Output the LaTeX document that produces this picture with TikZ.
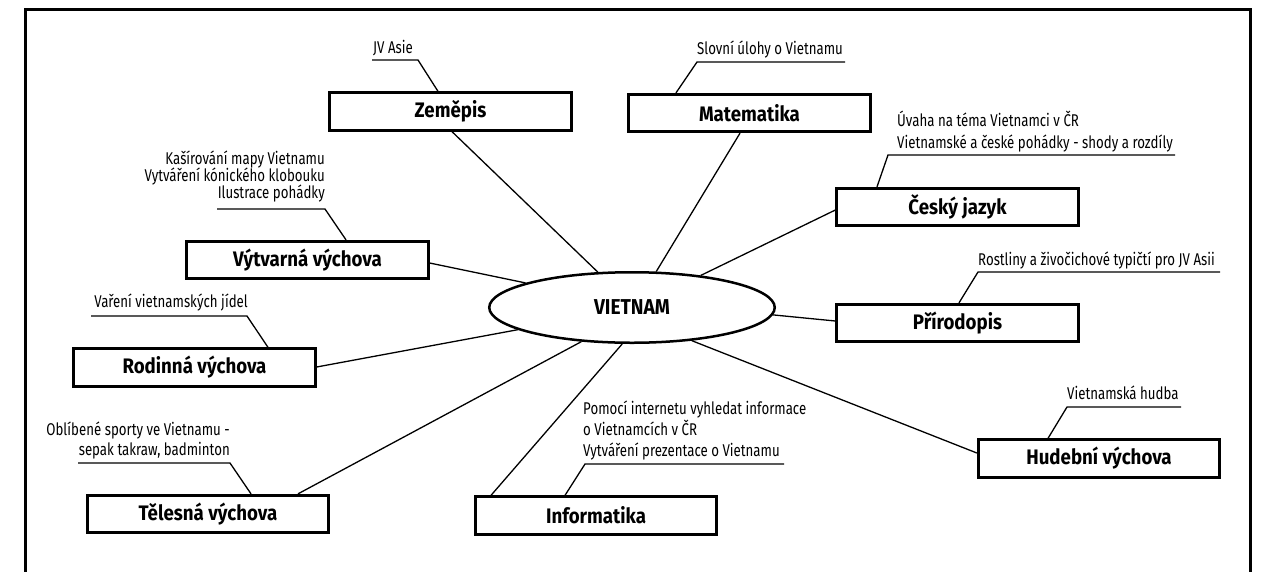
\documentclass[tikz,border=0pt]{standalone}
\usepackage{fontspec}
\usetikzlibrary{shapes.geometric}
\setmainfont{Fira Sans}[FakeStretch=0.78]
\newfontfamily\headfont{Fira Sans}[FakeStretch=0.89]

\tikzset{
  subject/.style={draw, line width=2.8pt, minimum width=241.5pt, minimum height=37.5pt,
    inner sep=0pt, font=\headfont\bfseries\fontsize{21}{25}\selectfont},
  hub/.style={draw, ellipse, line width=2.5pt, minimum width=285.5pt, minimum height=70.5pt,
    inner sep=0pt, font=\headfont\bfseries\fontsize{21.5}{25}\selectfont},
  notel/.style={anchor=base west, inner sep=0pt, font=\fontsize{17}{20}\selectfont},
  noter/.style={anchor=base east, inner sep=0pt, font=\fontsize{17}{20}\selectfont},
  link/.style={line width=1.3pt},
  pointer/.style={line width=1.3pt, line join=miter},
  frame/.style={line width=3pt, line join=miter}
}

\begin{document}
\begin{tikzpicture}[x=1pt, y=-1pt]
\useasboundingbox (0,0) rectangle (1261,571);

% outer frame (open at the bottom)
\draw[frame] (25,575) -- (25,9) -- (1250,9) -- (1250,575);

% central topic
\node[hub] (viet) at (632,307.5) {VIETNAM};

% subject boxes
\node[subject] (zem) at (450.5,111.5) {Zeměpis};
\node[subject] (mat) at (749.5,113)   {Matematika};
\node[subject] (cz)  at (957.5,207)   {Český jazyk};
\node[subject] (pri) at (957.5,323)   {Přírodopis};
\node[subject] (hud) at (1099,458.5)  {Hudební výchova};
\node[subject] (inf) at (596,515.5)   {Informatika};
\node[subject] (tel) at (208,514)     {Tělesná výchova};
\node[subject] (rod) at (194.5,367.5) {Rodinná výchova};
\node[subject] (vyt) at (307.5,260)   {Výtvarná výchova};

% spokes from the boxes to the centre
\draw[link] (zem.south -| 452,0) -- (viet.134.6);
\draw[link] (mat.south -| 740,0) -- (viet.56.3);
\draw[link] (cz.west |- 0,210)   -- (viet.25.9);
\draw[link] (pri.west |- 0,321)  -- (viet.-3.9);
\draw[link] (hud.west |- 0,453)  -- (viet.-29.5);
\draw[link] (inf.north -| 491,0) -- (viet.255);
\draw[link] (tel.north -| 298,0) -- (viet.214.3);
\draw[link] (rod.east |- 0,367)  -- (viet.191.4);
\draw[link] (vyt.east |- 0,263)  -- (viet.167);

% activity notes
\node[notel] (zemA) at (373,53) {JV Asie};
\node[notel] (matA) at (697,54) {Slovní úlohy o Vietnamu};
\node[notel] (czA)  at (897,126) {Úvaha na téma Vietnamci v ČR};
\node[notel] (czB)  at (897,148) {Vietnamské a české pohádky - shody a rozdíly};
\node[notel] (priA) at (978,265) {Rostliny a živočichové typičtí pro JV Asii};
\node[notel] (hudA) at (1067,399) {Vietnamská hudba};
\node[notel] (infA) at (583,414) {Pomocí internetu vyhledat informace};
\node[notel] (infB) at (583,435.5) {o Vietnamcích v ČR};
\node[notel] (infC) at (583,456) {Vytváření prezentace o Vietnamu};
\node[noter] (telA) at (230,435) {Oblíbené sporty ve Vietnamu -};
\node[noter] (telB) at (230,455.5) {sepak takraw, badminton};
\node[noter] (rodA) at (248,307) {Vaření vietnamských jídel};
\node[noter] (vytA) at (325,164) {Kašírování mapy Vietnamu};
\node[noter] (vytB) at (325,181) {Vytváření kónického klobouku};
\node[noter] (vytC) at (325,198) {Ilustrace pohádky};

% underlines of the notes and their bends
\coordinate (zemU) at (372,60);   \coordinate (zemK) at (418,60);
\coordinate (matU) at (845,62);   \coordinate (matK) at (697,62);
\coordinate (czU)  at (1175,155); \coordinate (czK)  at (888,155);
\coordinate (priU) at (1220,272); \coordinate (priK) at (978,272);
\coordinate (hudU) at (1181,407); \coordinate (hudK) at (1067,407);
\coordinate (infU) at (784,464);  \coordinate (infK) at (585,464);
\coordinate (telU) at (78,463);   \coordinate (telK) at (230,463);
\coordinate (rodU) at (91,316);   \coordinate (rodK) at (247,316);
\coordinate (vytU) at (217,209);  \coordinate (vytK) at (325,209);

\draw[pointer] (zemU) -- (zemK) -- (zem.north -| 438,0);
\draw[pointer] (matU) -- (matK) -- (mat.north -| 676,0);
\draw[pointer] (czU)  -- (czK)  -- (cz.north -| 877,0);
\draw[pointer] (priU) -- (priK) -- (pri.north -| 959,0);
\draw[pointer] (hudU) -- (hudK) -- (hud.north -| 1048,0);
\draw[pointer] (infU) -- (infK) -- (inf.north -| 565,0);
\draw[pointer] (telU) -- (telK) -- (tel.north -| 251,0);
\draw[pointer] (rodU) -- (rodK) -- (rod.north -| 268,0);
\draw[pointer] (vytU) -- (vytK) -- (vyt.north -| 346,0);
\end{tikzpicture}
\end{document}
